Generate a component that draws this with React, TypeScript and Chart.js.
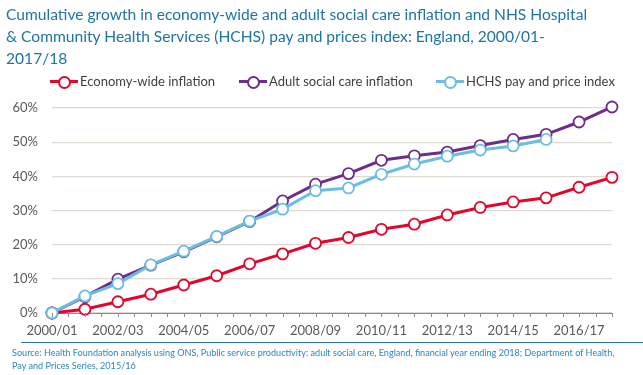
import React, { useEffect, useRef } from "react";
import { Chart, registerables } from "chart.js";

Chart.register(...registerables);

const categories = [
  "2000/01", "2001/02", "2002/03", "2003/04", "2004/05", "2005/06",
  "2006/07", "2007/08", "2008/09", "2009/10", "2010/11", "2011/12",
  "2012/13", "2013/14", "2014/15", "2015/16", "2016/17", "2017/18",
];

const economyWide = [0, 1.1, 3.3, 5.5, 8.2, 10.9, 14.4, 17.3, 20.4, 22.1, 24.5, 26.0, 28.7, 30.9, 32.5, 33.7, 36.8, 39.7];
const adultSocialCare = [0, 4.8, 9.9, 14.0, 17.9, 22.3, 26.8, 32.8, 37.7, 40.8, 44.7, 46.0, 47.1, 49.0, 50.8, 52.3, 55.9, 60.3];
const hchsPayPrices = [0, 5.0, 8.6, 14.1, 18.1, 22.4, 26.9, 30.4, 35.8, 36.6, 40.6, 43.6, 45.9, 47.7, 48.9, 50.8];

const yTicks = [0, 10, 20, 30, 40, 50, 60];

const seriesNames = ["Economy-wide inflation", "Adult social care inflation", "HCHS pay and price index"];
const seriesColors = ["#E2062C", "#6E2D8C", "#6CBDE2"];

const titleLines = [
  "Cumulative growth in economy-wide and adult social care inflation and NHS Hospital",
  "& Community Health Services (HCHS) pay and prices index: England, 2000/01-",
  "2017/18",
];
const sourceLines = [
  "Source: Health Foundation analysis using ONS, Public service productivity: adult social care, England, financial year ending 2018;  Department of Health,",
  "Pay and Prices Series, 2015/16",
];

const FONT = "Lato, 'Open Sans', sans-serif";

const halfTicks = {
  id: "halfTicks",
  afterDatasetsDraw(chart: any) {
    const xs = chart.scales.x;
    const ctx = chart.ctx;
    const y0 = chart.chartArea.bottom;
    ctx.save();
    ctx.strokeStyle = "#8C8C8C";
    ctx.lineWidth = 1;
    for (let i = 0; i <= (categories.length - 1) * 2; i++) {
      const px = Math.round(xs.getPixelForValue(i / 2)) + 0.5;
      ctx.beginPath();
      ctx.moveTo(px, y0);
      ctx.lineTo(px, y0 + 4);
      ctx.stroke();
    }
    ctx.restore();
  },
};

function LegendItem({ color, label, left }: { color: string; label: string; left: number }) {
  return (
    <div style={{ position: "absolute", left, top: 72, height: 18, display: "flex", alignItems: "center" }}>
      <div style={{ position: "relative", width: 28, height: 18 }}>
        <div style={{ position: "absolute", left: 0, right: 0, top: 8, height: 3, background: color }} />
        <div
          style={{
            position: "absolute", left: 8, top: 3.5, width: 9, height: 9, borderRadius: "50%",
            background: "#fff", border: `2px solid ${color}`,
          }}
        />
      </div>
      <span style={{ fontFamily: FONT, fontSize: 13, color: "#404040", marginLeft: 2, whiteSpace: "nowrap" }}>{label}</span>
    </div>
  );
}

export default function App() {
  const ref = useRef<HTMLCanvasElement>(null);

  useEffect(() => {
    document.body.style.margin = "0";
    const chart = new Chart(ref.current!, {
      type: "line",
      data: {
        labels: categories,
        datasets: [
          { label: seriesNames[0], data: economyWide, order: 2 },
          { label: seriesNames[1], data: adultSocialCare, order: 1 },
          { label: seriesNames[2], data: hchsPayPrices, order: 0 },
        ].map((d, i) => ({
          ...d,
          borderColor: seriesColors[i],
          backgroundColor: "#FFFFFF",
          pointBackgroundColor: "#FFFFFF",
          pointBorderColor: seriesColors[i],
          pointRadius: 5.5,
          pointBorderWidth: 1.8,
          borderWidth: 3,
          tension: 0,
          clip: false as any,
        })),
      },
      options: {
        animation: false,
        responsive: true,
        maintainAspectRatio: false,
        layout: { padding: { left: 0, right: 31, top: 108, bottom: 0 } },
        plugins: { legend: { display: false }, title: { display: false }, tooltip: { enabled: false } },
        scales: {
          x: {
            offset: false,
            grid: { drawOnChartArea: false, drawTicks: false, color: "#8C8C8C" },
            border: { color: "#8C8C8C", width: 1 },
            afterFit: (s: any) => { s.height = 62; },
            ticks: {
              autoSkip: false,
              maxRotation: 0,
              padding: 10,
              color: "#595959",
              font: { family: FONT, size: 13 },
              callback: (_v: any, i: number) => (i % 2 === 0 ? categories[i] : ""),
            },
          },
          y: {
            min: yTicks[0],
            max: yTicks[yTicks.length - 1],
            afterFit: (s: any) => { s.width = 52; },
            afterBuildTicks: (s: any) => { s.ticks = yTicks.map((v) => ({ value: v })); },
            grid: { color: "#DEDAD2", lineWidth: 1.2, drawTicks: false },
            border: { display: false },
            ticks: {
              padding: 14,
              color: "#595959",
              font: { family: FONT, size: 13 },
              callback: (v: any) => `${v}%`,
            },
          },
        },
      },
      plugins: [halfTicks],
    });
    return () => chart.destroy();
  }, []);

  return (
    <div style={{ position: "relative", width: 643, height: 375, background: "#fff", overflow: "hidden" }}>
      <canvas ref={ref} style={{ position: "absolute", left: 0, top: 0 }} />
      <div
        style={{
          position: "absolute", left: 6, top: 3, fontFamily: FONT, fontSize: 15.6,
          lineHeight: "22px", color: "#1E74A6", whiteSpace: "nowrap",
        }}
      >
        {titleLines.map((t, i) => <div key={i}>{t}</div>)}
      </div>
      <LegendItem color={seriesColors[0]} label={seriesNames[0]} left={50} />
      <LegendItem color={seriesColors[1]} label={seriesNames[1]} left={239} />
      <LegendItem color={seriesColors[2]} label={seriesNames[2]} left={436} />
      <div style={{ position: "absolute", left: 21, right: 0, top: 342, height: 0, borderTop: "1.5px solid #2E75B6" }} />
      <div
        style={{
          position: "absolute", left: 12, top: 346, fontFamily: FONT, fontSize: 9.1,
          lineHeight: "13px", color: "#2E86C1", whiteSpace: "nowrap",
        }}
      >
        {sourceLines.map((t, i) => <div key={i}>{t}</div>)}
      </div>
    </div>
  );
}
